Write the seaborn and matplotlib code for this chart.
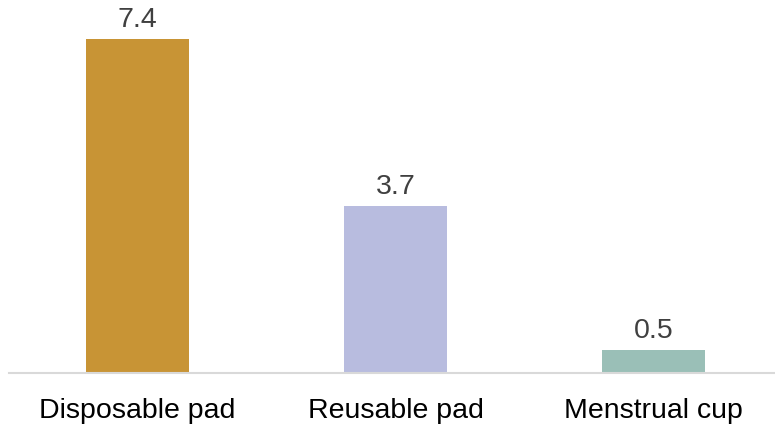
import matplotlib
matplotlib.use("Agg")
import matplotlib.pyplot as plt
import seaborn as sns
import pandas as pd

# data
categories = ["Disposable pad", "Reusable pad", "Menstrual cup"]
values = [7.4, 3.7, 0.5]
colors = ["#C89435", "#B8BCDF", "#9ABFB7"]

sns.set_theme(style="white")
plt.rcParams["font.family"] = ["Liberation Sans", "DejaVu Sans"]

df = pd.DataFrame({"category": categories, "value": values})

fig = plt.figure(figsize=(7.75, 4.24), dpi=100)
ax = fig.add_axes([8.5 / 775, 51 / 424, 774 / 775, 361 / 424])

sns.barplot(data=df, x="category", y="value", hue="category", palette=colors,
            width=0.4, legend=False, ax=ax, saturation=1, linewidth=0)

for p, v in zip(ax.patches, values):
    ax.text(p.get_x() + p.get_width() / 2, v + 0.14, f"{v:.1f}",
            ha="center", va="bottom", fontsize=20.5, color="#404040")

ax.set_ylim(0, 8)
ax.set_xlim(-0.5, 2.5)
ax.set_xlabel("")
ax.set_ylabel("")
ax.set_yticks([])
ax.tick_params(axis="x", labelsize=20.5, colors="#000000", length=0, pad=18)
for s in ["top", "right", "left"]:
    ax.spines[s].set_visible(False)
ax.spines["bottom"].set_color("#D9D9D9")
ax.spines["bottom"].set_linewidth(1.5)

fig.savefig("out.png", dpi=100)
